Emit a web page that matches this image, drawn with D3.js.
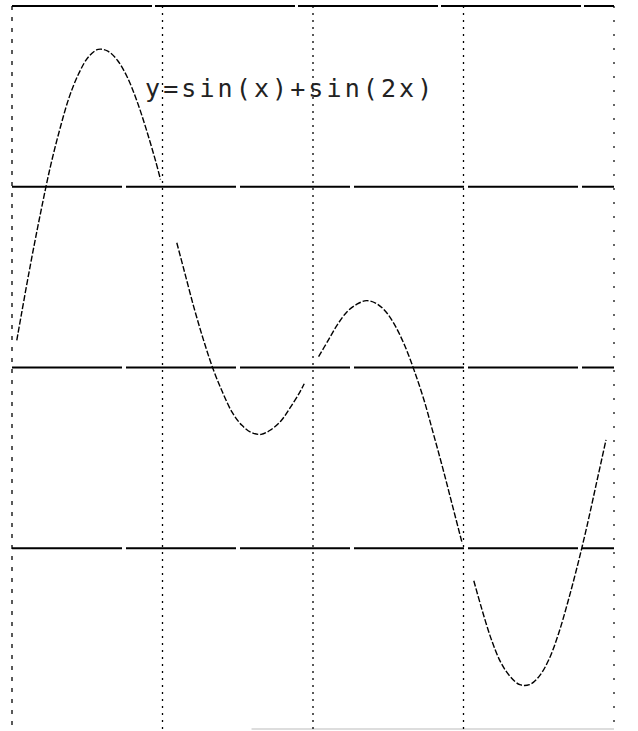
<!DOCTYPE html>
<html>
<head>
<meta charset="utf-8">
<script src="https://cdn.jsdelivr.net/npm/d3@7"></script>
<style>
	body { margin: 0; background: #fff; }
	svg { display: block; }
</style>
</head>
<body>
<div id="viz"></div>
<script>
// curve: t (radians) and y; null = gap in the scan
const tVals = [0.05, 0.1, 0.2, 0.3, 0.4, 0.5, 0.6, 0.7, 0.8, 0.9, 1.0, 1.1, 1.2, 1.3, 1.4, 1.5, 1.55,
	1.63,
	1.72, 1.8, 1.9, 2.0, 2.1, 2.2, 2.3, 2.4, 2.5, 2.6, 2.7, 2.8, 2.9, 3.0, 3.05,
	3.12,
	3.2, 3.3, 3.4, 3.5, 3.6, 3.7, 3.8, 3.9, 4.0, 4.1, 4.2, 4.3, 4.4, 4.5, 4.6, 4.7,
	4.76,
	4.82, 4.9, 5.0, 5.1, 5.2, 5.3, 5.4, 5.5, 5.6, 5.7, 5.8, 5.9, 6.0, 6.1, 6.2];
const yVals = [0.15, 0.30, 0.59, 0.86, 1.11, 1.32, 1.50, 1.63, 1.72, 1.76, 1.75, 1.70, 1.61, 1.48, 1.32, 1.14, 1.04,
	null,
	0.69, 0.53, 0.33, 0.15, -0.01, -0.14, -0.25, -0.32, -0.36, -0.37, -0.345, -0.30, -0.225, -0.14, -0.09,
	null,
	0.06, 0.15, 0.24, 0.31, 0.35, 0.37, 0.355, 0.31, 0.23, 0.12, -0.02, -0.18, -0.37, -0.565, -0.77, -0.975,
	null,
	-1.18, -1.33, -1.50, -1.63, -1.71, -1.755, -1.755, -1.71, -1.62, -1.48, -1.30, -1.10, -0.88, -0.64, -0.40];

const xGridTicks = [Math.PI / 2, Math.PI, 3 * Math.PI / 2];
const yGridTicks = [1, 0, -1];
const label = "y=sin(x)+sin(2x)";

function draw() {
	let width = 638;
	let height = 731;

	let svg = d3.select("#viz").append("svg")
		.attr("width", width).attr("height", height);

	let x = d3.scaleLinear().domain([0, 2 * Math.PI]).range([12, 614]);
	let y = d3.scaleLinear().domain([-2, 2]).range([729, 6]);

	// frame
	svg.append("line")
		.attr("x1", x(0)).attr("y1", y(2))
		.attr("x2", x(2 * Math.PI)).attr("y2", y(2))
		.attr("stroke", "#000").attr("stroke-width", 2)
		.attr("stroke-dasharray", "140,3");

	svg.append("line")
		.attr("x1", x(0)).attr("y1", y(2))
		.attr("x2", x(0)).attr("y2", y(-2))
		.attr("stroke", "#000").attr("stroke-width", 1.3)
		.attr("stroke-dasharray", "4,7");

	svg.append("line")
		.attr("x1", x(2 * Math.PI)).attr("y1", y(2))
		.attr("x2", x(2 * Math.PI)).attr("y2", y(-2))
		.attr("stroke", "#000").attr("stroke-width", 1.2)
		.attr("stroke-dasharray", "2,12");

	svg.append("line")
		.attr("x1", x(2.5)).attr("y1", y(-2))
		.attr("x2", x(2 * Math.PI)).attr("y2", y(-2))
		.attr("stroke", "#bbb").attr("stroke-width", 1);

	// horizontal grid
	svg.selectAll(".hgrid").data(yGridTicks).enter().append("line")
		.attr("class", "hgrid")
		.attr("x1", x(0)).attr("x2", x(2 * Math.PI))
		.attr("y1", d => y(d)).attr("y2", d => y(d))
		.attr("stroke", "#000").attr("stroke-width", 1.8)
		.attr("stroke-dasharray", "110,4");

	// vertical grid
	svg.selectAll(".vgrid").data(xGridTicks).enter().append("line")
		.attr("class", "vgrid")
		.attr("x1", d => x(d)).attr("x2", d => x(d))
		.attr("y1", y(2)).attr("y2", y(-2))
		.attr("stroke", "#000").attr("stroke-width", 1.3)
		.attr("stroke-dasharray", "2,5");

	// curve
	let pts = tVals.map((t, i) => [t, yVals[i]]);
	let line = d3.line()
		.defined(d => d[1] !== null)
		.x(d => x(d[0]))
		.y(d => y(d[1]))
		.curve(d3.curveCatmullRom);

	svg.append("path")
		.datum(pts)
		.attr("d", line)
		.attr("fill", "none")
		.attr("stroke", "#000")
		.attr("stroke-width", 1.4)
		.attr("stroke-dasharray", "6,2");

	svg.append("text").text(label)
		.attr("x", 145).attr("y", 97)
		.style("fill", "#222")
		.style("font-size", "25px")
		.style("font-family", "DejaVu Sans Mono")
		.style("letter-spacing", "3.1px");
}

draw();
</script>
</body>
</html>
